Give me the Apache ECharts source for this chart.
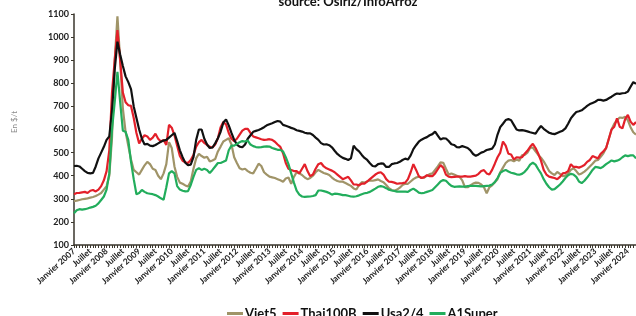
<!DOCTYPE html>
<html><head><meta charset="utf-8">
<script src="https://cdn.jsdelivr.net/npm/echarts@6/dist/echarts.min.js"></script>
<style>html,body{margin:0;padding:0;background:#fff}#c{width:636px;height:316px}</style>
</head><body><div id="c"></div>
<script>
// Monthly categories: Jan 2007 .. Apr 2024 (208 months)
const startYear = 2007;
const monthCount = 208;
const categories = [];
for (let i = 0; i < monthCount; i++) {
  const y = startYear + Math.floor(i / 12);
  const m = (i % 12) + 1;
  categories.push(y + '-' + (m < 10 ? '0' + m : m));
}
const yTicks = [100, 200, 300, 400, 500, 600, 700, 800, 900, 1000, 1100];

const usa24 = [
442,443,440,430,420,412,410,412,440,475,
500,525,555,570,680,860,980,925,875,830,
805,775,700,650,600,560,535,538,530,528,
533,540,547,552,555,565,575,585,550,510,
480,456,446,448,480,555,600,600,560,535,
520,522,540,562,590,630,644,618,585,555,
535,526,523,535,560,575,590,594,598,603,
610,618,623,627,632,637,634,620,616,612,
607,603,597,594,591,586,583,583,576,565,
555,541,535,536,532,523,508,494,485,477,
473,468,475,530,515,505,490,477,468,454,
442,440,450,453,452,438,438,450,453,455,
460,468,474,470,488,515,532,547,556,562,
567,575,580,591,574,557,562,561,550,536,
533,524,523,528,524,520,510,494,486,492,
500,504,511,514,517,535,578,610,625,641,
645,640,620,600,596,597,595,592,588,585,
582,600,615,603,594,586,582,580,585,590,
595,605,625,648,663,676,679,683,692,702,
710,715,720,728,728,725,728,735,742,750,
756,754,757,758,764,785,805,798];

const thai100b = [
320,325,326,328,330,325,335,338,332,340,
355,380,420,510,760,900,1030,900,760,718,
705,702,650,585,540,560,575,570,555,565,
582,560,548,555,533,620,608,575,530,485,
465,458,455,468,490,526,545,555,542,533,
525,522,535,562,610,632,622,585,560,550,
560,578,595,603,603,585,570,566,562,558,
555,556,558,555,547,535,525,497,455,430,
425,420,420,410,430,450,420,398,405,430,
450,455,440,432,427,422,415,405,395,385,
390,395,380,362,362,358,366,366,375,385,
395,405,412,415,405,385,374,373,370,365,
367,368,370,385,415,450,425,398,390,394,
402,398,398,410,428,446,435,405,396,394,
395,396,396,396,398,396,396,398,400,408,
420,424,410,405,425,452,480,500,548,530,
495,492,470,480,478,480,495,508,525,538,
520,495,465,425,405,396,393,390,385,395,
410,412,420,450,438,438,435,440,446,460,
468,485,480,475,495,505,520,560,600,612,
648,612,605,645,663,634,620,632];

const viet5 = [
290,292,295,298,300,302,305,308,312,318,
325,340,355,400,565,900,1090,900,690,590,
530,470,425,415,405,425,445,460,450,430,
425,400,385,410,450,545,520,440,395,370,
365,358,353,375,430,475,495,485,478,482,
462,466,472,505,526,548,555,562,535,480,
455,432,427,430,420,413,410,430,452,442,
415,405,396,393,390,385,380,374,388,392,
365,395,415,410,403,392,385,390,400,415,
425,418,412,408,403,392,383,377,374,374,
368,362,356,345,340,360,372,370,375,380,
378,381,384,377,372,360,346,338,335,340,
348,360,365,365,375,385,392,396,390,392,
400,407,410,425,440,458,456,430,405,410,
405,400,395,380,350,350,358,366,370,369,
362,350,324,350,358,372,385,415,435,455,
465,468,462,470,465,488,490,500,520,522,
505,490,478,462,442,420,410,403,416,408,
398,400,410,425,432,420,405,410,418,428,
440,452,465,468,482,497,520,560,600,625,
640,652,650,655,640,610,588,578];

const a1super = [
237,250,255,253,255,258,262,265,270,280,
295,310,340,410,600,720,850,720,595,590,
555,460,385,320,325,338,330,324,322,320,
316,310,302,296,350,410,420,410,355,340,
335,332,333,360,395,425,432,425,430,425,
412,425,440,455,455,460,466,510,530,530,
538,545,550,548,552,535,528,524,523,524,
526,527,526,520,516,512,512,505,480,450,
410,370,335,318,310,308,309,310,312,316,
336,336,333,330,325,318,322,321,319,316,
316,313,310,309,311,315,320,324,326,330,
337,344,352,355,352,346,339,336,334,331,
331,331,331,330,338,344,336,327,324,326,
330,334,338,350,362,375,381,378,366,356,
352,353,354,353,353,355,356,356,356,355,
354,355,356,357,362,372,390,412,420,425,
418,413,410,406,404,408,417,430,448,456,
448,428,410,385,365,350,340,342,352,362,
375,390,402,408,405,395,375,368,378,392,
408,425,438,436,433,440,450,458,466,462,
465,470,480,488,485,488,488,475];

const seriesNames = ['Viet5', 'Thai100B', 'Usa2/4', 'A1Super'];
const seriesColors = ['#a09468', '#e3202a', '#111111', '#22ad5c'];
const seriesData = [viet5, thai100b, usa24, a1super];

const FONT = 'Lato, "DejaVu Sans", sans-serif';
const chart = echarts.init(document.getElementById('c'), null, {renderer: 'canvas'});
chart.setOption({
  animation: false,
  backgroundColor: '#ffffff',
  graphic: [
    {type: 'text', x: 348, y: -5, style: {text: 'source: Osiriz/InfoArroz', align: 'center', verticalAlign: 'top', font: 'bold 13px ' + FONT, fill: '#111'}},
    {type: 'text', x: 10, y: 122, rotation: Math.PI / 2, style: {text: 'En $/t', align: 'center', verticalAlign: 'top', font: '8px ' + FONT, fill: '#8a8a8a'}}
  ],
  legend: {
    data: seriesNames,
    left: 222, top: 302,
    itemWidth: 16, itemHeight: 3, itemGap: 6,
    icon: 'rect',
    textStyle: {fontFamily: FONT, fontWeight: 'bold', fontSize: 13, color: '#111', padding: [0, 0, 0, -3]}
  },
  grid: {left: 74, right: 0, top: 14, bottom: 71},
  xAxis: {
    type: 'category',
    data: categories,
    boundaryGap: false,
    axisLine: {lineStyle: {color: '#3a362c', width: 1.5}},
    axisTick: {show: true, interval: 0, length: 3, lineStyle: {color: '#3a362c'}},
    axisLabel: {
      interval: function (i) { return i % 6 === 0; },
      rotate: 42,
      margin: 5,
      fontFamily: FONT, fontWeight: 'bold', fontSize: 8.5, color: '#222',
      formatter: function (v, i) {
        const parts = v.split('-');
        return parts[1] === '01' ? 'Janvier ' + parts[0] : 'Juillet';
      }
    },
    splitLine: {show: false}
  },
  yAxis: {
    type: 'value',
    min: yTicks[0], max: yTicks[yTicks.length - 1], interval: 100,
    axisLine: {show: true, lineStyle: {color: '#3a362c', width: 1.5}},
    axisTick: {show: true, length: 3, lineStyle: {color: '#3a362c'}},
    axisLabel: {fontFamily: FONT, fontWeight: 'bold', fontSize: 9, color: '#222', margin: 5,
      formatter: function (v) { return String(v); }},
    splitLine: {show: false}
  },
  series: seriesNames.map(function (n, k) {
    return {
      name: n, type: 'line', data: seriesData[k],
      symbol: 'none', smooth: false,
      lineStyle: {color: seriesColors[k], width: 2.2},
      itemStyle: {color: seriesColors[k]}
    };
  })
});
</script></body></html>
